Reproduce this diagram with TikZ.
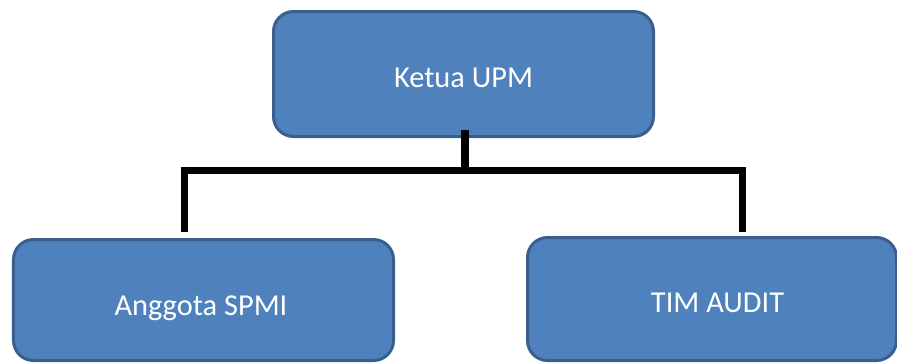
\documentclass[tikz,border=0pt]{standalone}
\usepackage{fontspec}
\setmainfont{Carlito}
\definecolor{boxblue}{HTML}{4F81BD}
\definecolor{boxedge}{HTML}{3A5F8C}
\begin{document}
\begin{tikzpicture}[x=1bp,y=-1bp,
  orgbox/.style={draw=boxedge, fill=boxblue, line width=3bp, rounded corners=20bp,
    inner sep=0pt, outer sep=0pt},
  boxtext/.style={text=white, font=\fontsize{30.5}{34}\selectfont, anchor=base, inner sep=0pt},
  conn/.style={draw=black, line width=7bp, line join=miter, line cap=butt}]
\useasboundingbox (0,0) rectangle (897,363);
% boxes
\node[orgbox, minimum width=380bp, minimum height=125bp] (ketua) at (463.5,74) {};
\node[orgbox, minimum width=380bp, minimum height=121bp] (anggota) at (203.5,300) {};
\node[orgbox, minimum width=369bp, minimum height=123bp] (tim) at (712,299) {};
% texts
\node[boxtext] (ketuaT) at (463.5,87.3) {Ketua UPM};
\node[boxtext] (anggotaT) at (201,315) {Anggota SPMI};
\node[boxtext] (timT) at (717.5,312.3) {TIM AUDIT};
% connector points
\coordinate (top) at (465,130);
\coordinate (hub) at (465,170);
\coordinate (left) at (184.5,170);
\coordinate (right) at (742,170);
\coordinate (leftEnd) at (184.5,232);
\coordinate (rightEnd) at (742,232);
% connectors
\draw[conn, line width=8bp] (top) -- ([yshift=-3.5bp]hub);
\draw[conn] (leftEnd) -- (left) -- (right) -- (rightEnd);
\end{tikzpicture}
\end{document}
